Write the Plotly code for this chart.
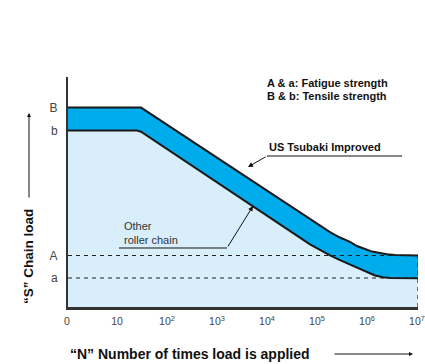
import plotly.graph_objects as go

# ---- data (log10 N positions, relative load) ----
x_tick_vals = [0, 1, 2, 3, 4, 5, 6, 7]
x_tick_text = ["0", "10", "10<sup>2</sup>", "10<sup>3</sup>", "10<sup>4</sup>",
               "10<sup>5</sup>", "10<sup>6</sup>", "10<sup>7</sup>"]
y_tick_vals = [8.67, 7.67, 2.24, 1.26]
y_tick_text = ["B", "b", "A", "a"]

tsubaki_x = [0, 1.46, 5.24, 5.44, 5.64, 5.78, 5.94, 6.08, 6.24, 6.38, 6.54, 6.74, 7.0]
tsubaki_y = [8.67, 8.67, 3.26, 3.02, 2.83, 2.65, 2.52, 2.41, 2.35, 2.29, 2.26, 2.25, 2.24]

other_x = [0, 1.38, 1.46, 4.64, 4.84, 5.04, 5.24, 5.44, 5.64, 5.84, 6.0, 6.14, 6.3, 6.44, 7.0]
other_y = [7.67, 7.67, 7.62, 3.0, 2.72, 2.48, 2.24, 2.04, 1.85, 1.65, 1.5, 1.37, 1.29, 1.26, 1.25]

fatigue_A = 2.24
fatigue_a = 1.26

FONT = "Liberation Sans, Arial, sans-serif"
NARROW = "Liberation Sans Narrow, Arial Narrow, Liberation Sans, sans-serif"
L, T, R, B = 68, 77, 418, 307
W, H = 425, 364

def px(xp):
    return (xp - L) / (R - L)

def py(yp):
    return (B - yp) / (B - T)

fig = go.Figure()
fig.add_trace(go.Scatter(x=other_x, y=other_y, mode="lines",
                         line=dict(color="#1a1a1a", width=2),
                         fill="tozeroy", fillcolor="#d8eefa", hoverinfo="skip"))
fig.add_trace(go.Scatter(x=tsubaki_x, y=tsubaki_y, mode="lines",
                         line=dict(color="#1a1a1a", width=2),
                         fill="tonexty", fillcolor="#00acec", hoverinfo="skip"))

# dashed reference lines
for yv in (fatigue_A, fatigue_a):
    fig.add_trace(go.Scatter(x=[0, x_tick_vals[-1]], y=[yv, yv], mode="lines",
                             line=dict(color="#222", width=1.2, dash="4px,4px"), hoverinfo="skip"))
fig.add_trace(go.Scatter(x=[x_tick_vals[-1], x_tick_vals[-1]], y=[0, fatigue_A], mode="lines",
                         line=dict(color="#222", width=1.2, dash="4px,4px"), hoverinfo="skip"))

fig.update_layout(
    width=W, height=H, showlegend=False,
    margin=dict(l=L, r=W - R, t=T, b=H - B, autoexpand=False),
    paper_bgcolor="white", plot_bgcolor="white",
    font=dict(family=FONT, color="#333"),
    xaxis=dict(range=[0, 7], tickvals=x_tick_vals, ticktext=x_tick_text, automargin=False,
               showgrid=False, zeroline=False, showline=True, linecolor="#333", linewidth=2.5,
               ticks="", ticklabelstandoff=3, ticklabeloverflow="allow", ticklabelshift=-1,
               tickfont=dict(size=10.5, color="#444", family=NARROW)),
    yaxis=dict(range=[0, 10], tickvals=y_tick_vals, ticktext=y_tick_text, automargin=False,
               showgrid=False, zeroline=False, showline=True, linecolor="#333", linewidth=2,
               ticks="", ticklabelstandoff=6, tickfont=dict(size=12, color="#444", family=NARROW)),
)

ann = []
ann.append(dict(x=px(265), y=py(83), xref="paper", yref="paper", xanchor="left", yanchor="middle",
                text="<b>A & a: Fatigue strength</b>", showarrow=False,
                font=dict(size=11, color="#111")))
ann.append(dict(x=px(265), y=py(96), xref="paper", yref="paper", xanchor="left", yanchor="middle",
                text="<b>B & b: Tensile strength</b>", showarrow=False,
                font=dict(size=11, color="#111")))
ann.append(dict(x=px(267), y=py(147), xref="paper", yref="paper", xanchor="left", yanchor="middle",
                text="<b>US Tsubaki Improved</b>", showarrow=False,
                font=dict(size=11, color="#111")))
ann.append(dict(x=px(122), y=py(233), xref="paper", yref="paper", xanchor="left", yanchor="middle",
                text="Other<br>roller chain", showarrow=False, align="left",
                font=dict(size=11, color="#333")))
# leader arrows
ann.append(dict(x=px(248), y=py(167), xref="paper", yref="paper", ax=19, ay=-11,
                text="", showarrow=True, arrowhead=2, arrowsize=1, arrowwidth=1, arrowcolor="#111"))
ann.append(dict(x=px(253), y=py(206), xref="paper", yref="paper", ax=-26, ay=42,
                text="", showarrow=True, arrowhead=2, arrowsize=1, arrowwidth=1, arrowcolor="#111"))
# axis titles
ann.append(dict(x=px(28), y=py(257), xref="paper", yref="paper", textangle=-90,
                xanchor="center", yanchor="middle",
                text="<b>“S” Chain load</b>", showarrow=False,
                font=dict(size=13.5, color="#111")))
ann.append(dict(x=px(29), y=py(113), xref="paper", yref="paper", ax=0, ay=86,
                text="", showarrow=True, arrowhead=2, arrowsize=0.8, arrowwidth=1, arrowcolor="#111"))
ann.append(dict(x=px(68), y=py(354), xref="paper", yref="paper", xanchor="left", yanchor="middle",
                text="<b>“N” Number of times load is applied</b>", showarrow=False,
                font=dict(size=14, color="#111")))
ann.append(dict(x=px(413), y=py(354), xref="paper", yref="paper", ax=-80, ay=0,
                text="", showarrow=True, arrowhead=2, arrowsize=0.8, arrowwidth=1, arrowcolor="#111"))
fig.update_layout(annotations=ann)

shapes = [
    dict(type="line", xref="paper", yref="paper", x0=px(267), x1=px(402), y0=py(156), y1=py(156),
         line=dict(color="#111", width=1.2)),
    dict(type="line", xref="paper", yref="paper", x0=px(119), x1=px(227), y0=py(248), y1=py(248),
         line=dict(color="#111", width=1.2)),
]
fig.update_layout(shapes=shapes)

fig.write_html("out.html", config={"displayModeBar": False},
               post_script="document.body.style.margin='0px';")
